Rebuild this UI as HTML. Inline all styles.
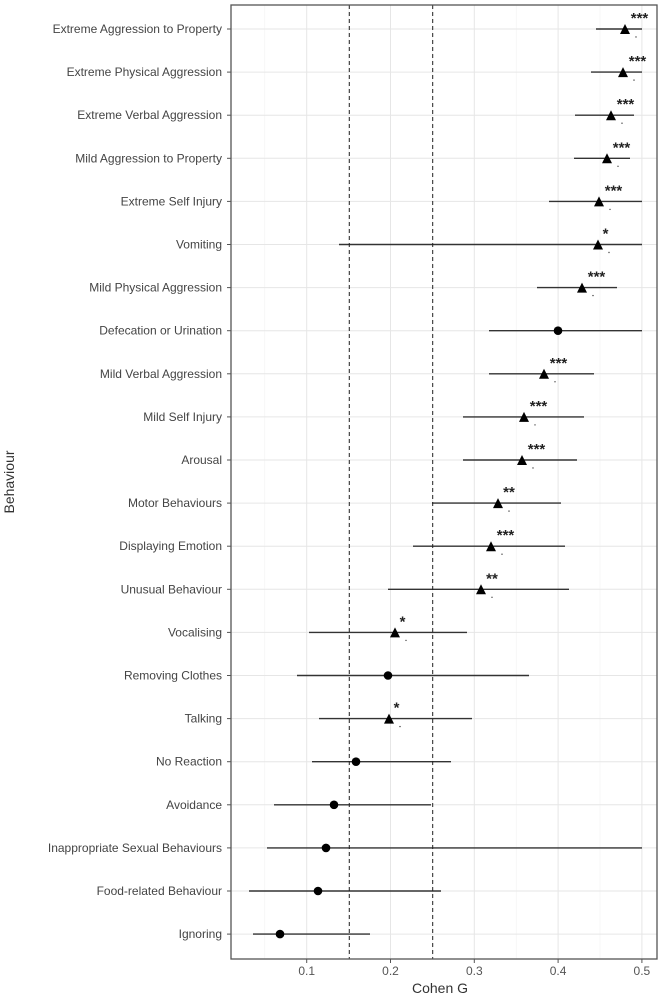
<!DOCTYPE html>
<html><head><meta charset="utf-8"><style>body{margin:0;background:#fff}svg{display:block}</style></head><body>
<svg width="664" height="1000" xmlns="http://www.w3.org/2000/svg" font-family="Liberation Sans, sans-serif">
<rect width="664" height="1000" fill="#fff"/>
<g id="grid"></g>
<g id="content"></g>
<rect x="231" y="5" width="426" height="954" fill="none" stroke="#555" stroke-width="1.3"/>
<text x="440" y="993" font-size="14" fill="#333" text-anchor="middle">Cohen G</text>
<text transform="translate(14,482) rotate(-90)" font-size="14" fill="#333" text-anchor="middle">Behaviour</text>
<script>
var s="http://www.w3.org/2000/svg";
function el(t,a,p,txt){var e=document.createElementNS(s,t);for(var k in a)e.setAttribute(k,a[k]);if(txt)e.textContent=txt;document.getElementById(p).appendChild(e);return e;}
function X(v){return 306.7+(v-0.1)*838;}
for(var v=0.05;v<=0.52;v+=0.05){var x=X(v);var major=Math.abs(v*10-Math.round(v*10))<0.01;
el('line',{x1:x,x2:x,y1:5,y2:959,stroke:major?'#e6e6e6':'#f2f2f2','stroke-width':major?1:0.6},'grid');
if(major){el('line',{x1:x,x2:x,y1:959,y2:963,stroke:'#555'},'grid');
el('text',{x:x,y:975,'font-size':12,fill:'#555','text-anchor':'middle'},'grid',(Math.round(v*10)/10).toString());}}
var d=[
["Extreme Aggression to Property",625,596,642,1,"***"],
["Extreme Physical Aggression",623,591,642,1,"***"],
["Extreme Verbal Aggression",611,575,634,1,"***"],
["Mild Aggression to Property",607,574,630,1,"***"],
["Extreme Self Injury",599,549,642,1,"***"],
["Vomiting",598,339,642,1,"*"],
["Mild Physical Aggression",582,537,617,1,"***"],
["Defecation or Urination",558,489,642,0,""],
["Mild Verbal Aggression",544,489,594,1,"***"],
["Mild Self Injury",524,463,584,1,"***"],
["Arousal",522,463,577,1,"***"],
["Motor Behaviours",498,432,561,1,"**"],
["Displaying Emotion",491,413,565,1,"***"],
["Unusual Behaviour",481,388,569,1,"**"],
["Vocalising",395,309,467,1,"*"],
["Removing Clothes",388,297,529,0,""],
["Talking",389,319,472,1,"*"],
["No Reaction",356,312,451,0,""],
["Avoidance",334,274,431,0,""],
["Inappropriate Sexual Behaviours",326,267,642,0,""],
["Food-related Behaviour",318,249,441,0,""],
["Ignoring",280,253,370,0,""]];
d.forEach(function(r,i){var y=29+i*43.1;
el('line',{x1:231,x2:657,y1:y,y2:y,stroke:'#e6e6e6'},'grid');
el('line',{x1:227,x2:231,y1:y,y2:y,stroke:'#555'},'grid');
el('text',{x:222,y:y+4,'font-size':12,fill:'#444','text-anchor':'end'},'grid',r[0]);
el('line',{x1:r[2],x2:r[3],y1:y,y2:y,stroke:'#333','stroke-width':1.4},'content');
if(r[4]){el('polygon',{points:(r[1]-5)+','+(y+5)+' '+(r[1]+5)+','+(y+5)+' '+r[1]+','+(y-5),fill:'#000'},'content');
el('text',{x:r[1]+4+r[5].length*3.5,y:y-6,'font-size':15,'font-weight':'bold',fill:'#222','text-anchor':'middle'},'content',r[5]);
el('circle',{cx:r[1]+11,cy:y+8,r:0.7,fill:'#444'},'content');}
else el('circle',{cx:r[1],cy:y,r:4.3,fill:'#000'},'content');});
el('line',{x1:349.3,x2:349.3,y1:5,y2:959,stroke:'#222','stroke-dasharray':'4,3'},'content');
el('line',{x1:432.7,x2:432.7,y1:5,y2:959,stroke:'#222','stroke-dasharray':'4,3'},'content');
</script>
</svg>
</body></html>
